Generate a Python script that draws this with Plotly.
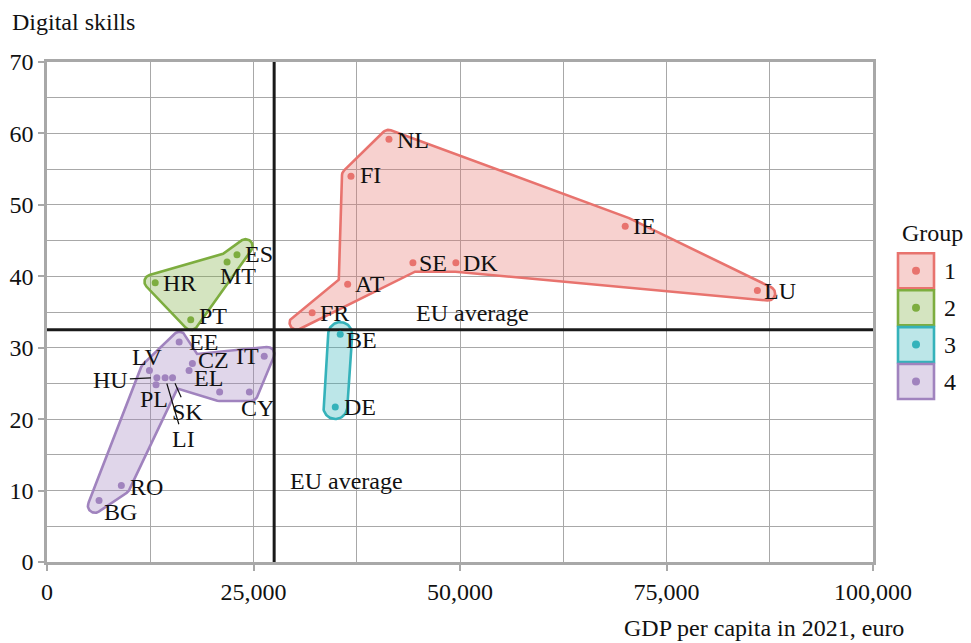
import numpy as np
import plotly.graph_objects as go

# ---------------- data ----------------
COUNTRIES = ["NL", "FI", "IE", "SE", "DK", "LU", "AT", "FR",
             "BE", "DE",
             "ES", "MT", "HR", "PT",
             "EE", "LV", "CZ", "EL", "IT", "CY", "SI", "HU", "PL", "SK", "LI", "RO", "BG"]
GDP_PC = [41400, 36800, 70000, 44300, 49500, 86000, 36400, 32100,
          35500, 34900,
          23000, 21800, 13100, 17400,
          16000, 12400, 17600, 17200, 26300, 24500, 20900, 13300, 13200, 15200, 14300, 9000, 6300]
DIGITAL = [59.2, 54.0, 47.0, 41.9, 41.9, 38.0, 38.9, 34.9,
           31.9, 21.7,
           43.0, 42.0, 39.1, 33.9,
           30.8, 26.8, 27.8, 26.8, 28.8, 23.8, 23.8, 25.8, 24.8, 25.8, 25.8, 10.7, 8.6]
GROUP = [1, 1, 1, 1, 1, 1, 1, 1,
         3, 3,
         2, 2, 2, 2,
         4, 4, 4, 4, 4, 4, 4, 4, 4, 4, 4, 4, 4]
SHOW_LABEL = [c != "SI" for c in COUNTRIES]
# outline (hull) vertices of each group, by country code
HULL_ORDER = {1: ["NL", "IE", "LU", "DK", "SE", "FR", "AT", "FI"],
              2: ["HR", "MT", "ES", "PT"],
              3: ["BE", "DE"],
              4: ["BG", "RO", "SK", "SI", "CY", "IT", "CZ", "EE", "LV"]}
EU_AVG_GDP = 27500
EU_AVG_DIGITAL = 32.5
GROUPS = [1, 2, 3, 4]
X_TICKS = [0, 25000, 50000, 75000, 100000]
Y_TICKS = [0, 10, 20, 30, 40, 50, 60, 70]

# ---------------- style ----------------
FONT = "Liberation Serif"
FS = 24
COLORS = {1: (232, 115, 110), 2: (125, 173, 63), 3: (53, 178, 186), 4: (160, 131, 190)}
FILL_ALPHA = 0.33
GRID = "#A8A8A8"

PAGE_OFFSET = 8          # browser body margin
W, H = 971 - PAGE_OFFSET, 643 - PAGE_OFFSET
ML, MT = 47 - PAGE_OFFSET, 62 - PAGE_OFFSET
PW, PH = 826, 500
MR, MB = W - ML - PW, H - MT - PH
X_RANGE = (0, 100000)
Y_RANGE = (0, 70)
KX = PW / (X_RANGE[1] - X_RANGE[0])
KY = PH / (Y_RANGE[1] - Y_RANGE[0])

# label placement: (xanchor, dx px, dy px downward) or ("arrow", ax, ay)
LABEL_POS = {
    "NL": ("left", 6, 1), "FI": ("left", 7, -1), "IE": ("left", 6, 0), "SE": ("left", 4, 0),
    "DK": ("left", 5, 0), "LU": ("left", 5, 0), "AT": ("left", 5, 0), "FR": ("left", 6, 0),
    "BE": ("left", 4, 6), "DE": ("left", 7, 0), "ES": ("left", 6, -1), "MT": ("center", 11, 14),
    "HR": ("left", 6, 0), "PT": ("left", 6, -4), "EE": ("left", 8, 0), "LV": ("center", -2, -14),
    "CZ": ("left", 4, -3), "EL": ("left", 3, 7), "IT": ("right", -3, 0), "CY": ("center", 8, 16),
    "PL": ("center", -2, 14), "RO": ("left", 7, 1), "BG": ("left", 3, 11),
    "HU": ("arrow", -46, 2), "SK": ("arrow", 15, 34), "LI": ("arrow", 18, 61),
}


def rgba(c, a=1.0):
    return f"rgba({c[0]},{c[1]},{c[2]},{a})"


def px2paper(px, py):
    """window pixel -> paper coordinates"""
    px, py = px - PAGE_OFFSET, py - PAGE_OFFSET
    return (px - ML) / PW, 1 - (py - MT) / PH


# ---------------- hull geometry (screen space) ----------------
def edge_normals(p):
    t = np.roll(p, -1, axis=0) - p
    t = t / np.linalg.norm(t, axis=1)[:, None]
    return t, np.column_stack([t[:, 1], -t[:, 0]])


def make_ccw(p):
    x, y = p[:, 0], p[:, 1]
    area = 0.5 * np.sum(x * np.roll(y, -1) - np.roll(x, -1) * y)
    return p[::-1] if area < 0 else p


def miter_offset(p, d, cap=30.0):
    _, n_out = edge_normals(p)
    n_in = np.roll(n_out, 1, axis=0)
    denom = 1 + np.sum(n_in * n_out, axis=1)
    v = d * (n_in + n_out) / np.maximum(denom, 1e-6)[:, None]
    mag = np.linalg.norm(v, axis=1)
    scale = np.where(mag > cap, cap / np.maximum(mag, 1e-9), 1.0)
    return p + v * scale[:, None]


def round_offset(p, r, step=np.pi / 40):
    t_out, n_out = edge_normals(p)
    t_in = np.roll(t_out, 1, axis=0)
    n_in = np.roll(n_out, 1, axis=0)
    pts = []
    for i in range(len(p)):
        cross = t_in[i, 0] * t_out[i, 1] - t_in[i, 1] * t_out[i, 0]
        if cross >= -1e-9:
            a1 = np.arctan2(n_in[i, 1], n_in[i, 0])
            a2 = np.arctan2(n_out[i, 1], n_out[i, 0])
            da = (a2 - a1) % (2 * np.pi)
            k = max(2, int(np.ceil(da / step)) + 1)
            ang = a1 + np.linspace(0, da, k)
            pts.extend(p[i] + r * np.column_stack([np.cos(ang), np.sin(ang)]))
        else:
            d = 1 + np.dot(n_in[i], n_out[i])
            pts.append(p[i] + r * (n_in[i] + n_out[i]) / max(d, 1e-6))
    return np.array(pts)


def hull_outline(xs, ys, expand=9.0, radius=7.0, capsule=12.0):
    s = np.column_stack([(np.asarray(xs) - X_RANGE[0]) * KX, (np.asarray(ys) - Y_RANGE[0]) * KY])
    if len(s) >= 3:
        s = make_ccw(s)
        s = miter_offset(s, expand - radius)
        out = round_offset(s, radius)
    else:
        out = round_offset(s, capsule)
    out = np.vstack([out, out[:1]])
    return out[:, 0] / KX + X_RANGE[0], out[:, 1] / KY + Y_RANGE[0]


idx = {c: i for i, c in enumerate(COUNTRIES)}
fig = go.Figure()

# hull areas
for g in GROUPS:
    hx = [GDP_PC[idx[c]] for c in HULL_ORDER[g]]
    hy = [DIGITAL[idx[c]] for c in HULL_ORDER[g]]
    ox, oy = hull_outline(hx, hy)
    fig.add_trace(go.Scatter(x=ox, y=oy, mode="lines", fill="toself",
                             fillcolor=rgba(COLORS[g], FILL_ALPHA),
                             line=dict(color=rgba(COLORS[g]), width=2.6),
                             hoverinfo="skip", showlegend=False))

# EU average lines
fig.add_trace(go.Scatter(x=[EU_AVG_GDP, EU_AVG_GDP], y=list(Y_RANGE), mode="lines",
                         line=dict(color="#1a1a1a", width=3), hoverinfo="skip", showlegend=False))
fig.add_trace(go.Scatter(x=list(X_RANGE), y=[EU_AVG_DIGITAL, EU_AVG_DIGITAL], mode="lines",
                         line=dict(color="#1a1a1a", width=3), hoverinfo="skip", showlegend=False))

# points
for g in GROUPS:
    sel = [i for i in range(len(COUNTRIES)) if GROUP[i] == g]
    fig.add_trace(go.Scatter(x=[GDP_PC[i] for i in sel], y=[DIGITAL[i] for i in sel],
                             mode="markers", marker=dict(size=7, color=rgba(COLORS[g])),
                             text=[COUNTRIES[i] for i in sel], showlegend=False))

# point labels
tfont = dict(family=FONT, size=FS, color="#111111")
for i, c in enumerate(COUNTRIES):
    if not SHOW_LABEL[i]:
        continue
    kind, a, b = LABEL_POS[c]
    if kind == "arrow":
        fig.add_annotation(x=GDP_PC[i], y=DIGITAL[i], text=c, showarrow=True, arrowhead=0,
                           arrowwidth=1.2, arrowcolor="#111111", ax=a, ay=b, standoff=6,
                           font=tfont)
    else:
        fig.add_annotation(x=GDP_PC[i], y=DIGITAL[i], text=c, showarrow=False,
                           xanchor=kind, yanchor="middle", xshift=a, yshift=-b, font=tfont)

# EU average labels
fig.add_annotation(x=EU_AVG_GDP, y=11.3, text="EU average", showarrow=False, xanchor="left",
                   yanchor="middle", xshift=14, font=tfont)
fig.add_annotation(x=44400, y=EU_AVG_DIGITAL, text="EU average", showarrow=False, xanchor="left",
                   yanchor="middle", yshift=17, font=tfont)

# axis titles
x0, y0 = px2paper(10, 22)
fig.add_annotation(xref="paper", yref="paper", x=x0, y=y0, text="Digital skills", showarrow=False,
                   xanchor="left", yanchor="middle", font=tfont)
x0, y0 = px2paper(906, 628)
fig.add_annotation(xref="paper", yref="paper", x=x0, y=y0, text="GDP per capita in 2021, euro",
                   showarrow=False, xanchor="right", yanchor="middle", font=tfont)

# legend (drawn)
x0, y0 = px2paper(932.5, 233)
fig.add_annotation(xref="paper", yref="paper", x=x0, y=y0, text="Group", showarrow=False,
                   xanchor="center", yanchor="middle", font=tfont)
for k, g in enumerate(GROUPS):
    top = 253.3 + k * 36.9
    ax0, ay0 = px2paper(898, top + 35)
    ax1, ay1 = px2paper(934, top)
    fig.add_shape(type="rect", xref="paper", yref="paper", x0=ax0, y0=ay0, x1=ax1, y1=ay1,
                  fillcolor=rgba(COLORS[g], FILL_ALPHA), line=dict(color=rgba(COLORS[g]), width=2.6))
    cx0, cy0 = px2paper(916 - 4, top + 17.5 + 4)
    cx1, cy1 = px2paper(916 + 4, top + 17.5 - 4)
    fig.add_shape(type="circle", xref="paper", yref="paper", x0=cx0, y0=cy0, x1=cx1, y1=cy1,
                  fillcolor=rgba(COLORS[g]), line=dict(width=0))
    lx, ly = px2paper(950, top + 18)
    fig.add_annotation(xref="paper", yref="paper", x=lx, y=ly, text=str(g), showarrow=False,
                       xanchor="center", yanchor="middle", font=tfont)

axis_common = dict(showline=True, linecolor=GRID, linewidth=2.5, mirror=True,
                   showgrid=True, gridcolor=GRID, gridwidth=1, zeroline=False,
                   ticks="outside", ticklen=6, tickwidth=2, tickcolor=GRID,
                   tickfont=dict(family=FONT, size=FS, color="#111111"))
fig.update_xaxes(range=list(X_RANGE), tickvals=X_TICKS,
                 ticktext=[f"{v:,}" for v in X_TICKS],
                 minor=dict(dtick=12500, tick0=0, showgrid=True, gridcolor=GRID, gridwidth=1, ticks=""),
                 **axis_common)
fig.update_yaxes(range=list(Y_RANGE), tickvals=Y_TICKS,
                 minor=dict(dtick=5, tick0=0, showgrid=True, gridcolor=GRID, gridwidth=1, ticks=""),
                 **axis_common)

fig.update_layout(width=W, height=H, margin=dict(l=ML, r=MR, t=MT, b=MB, autoexpand=False),
                  plot_bgcolor="white", paper_bgcolor="white", showlegend=False,
                  font=dict(family=FONT, size=FS, color="#111111"))

fig.write_html("out.html")
